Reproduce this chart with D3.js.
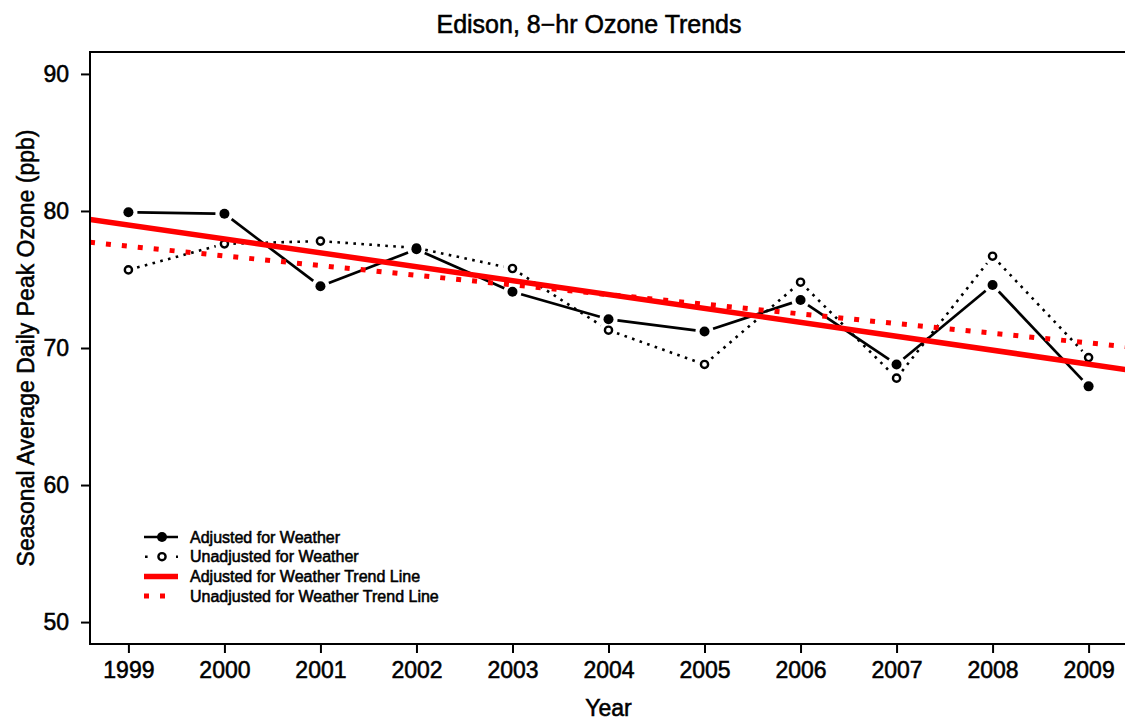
<!DOCTYPE html>
<html>
<head>
<meta charset="utf-8">
<script src="https://cdn.jsdelivr.net/npm/d3@7"></script>
<style>
  body { margin: 0; background: #fff; }
  svg { display: block; }
  text { font-family: "Liberation Sans", Arial, Helvetica, sans-serif; fill: #000; stroke: #000; stroke-width: 0.55px; }
</style>
</head>
<body>
<svg id="chart" width="1125" height="723"></svg>
<script>
// Seasonal average daily peak 8-hr ozone at Edison (ppb)
const years = [1999, 2000, 2001, 2002, 2003, 2004, 2005, 2006, 2007, 2008, 2009];
const adjusted = [79.9, 79.8, 74.5, 77.2, 74.1, 72.1, 71.2, 73.5, 68.8, 74.6, 67.2];
const unadjusted = [75.7, 77.6, 77.8, 77.3, 75.8, 71.3, 68.8, 74.8, 67.8, 76.7, 69.3];
const yTicks = [50, 60, 70, 80, 90];
const yLimits = [50, 90];
const legendLabels = [
  "Adjusted for Weather",
  "Unadjusted for Weather",
  "Adjusted for Weather Trend Line",
  "Unadjusted for Weather Trend Line"
];
const titleText = "Edison, 8\u2212hr Ozone Trends";
const xTitle = "Year";
const yTitle = "Seasonal Average Daily Peak Ozone (ppb)";

const svg = d3.select("#chart");
const plot = { left: 90, top: 52, right: 1127, bottom: 644 };

// axis ranges padded by 4% on each side
const xPad = (d3.max(years) - d3.min(years)) * 0.04;
const yPad = (yLimits[1] - yLimits[0]) * 0.04;
const x = d3.scaleLinear()
  .domain([d3.min(years) - xPad, d3.max(years) + xPad])
  .range([plot.left, plot.right]);
const y = d3.scaleLinear()
  .domain([yLimits[0] - yPad, yLimits[1] + yPad])
  .range([plot.bottom, plot.top]);

// ordinary least squares fit
function fitLine(xs, ys) {
  const mx = d3.mean(xs), my = d3.mean(ys);
  let sxy = 0, sxx = 0;
  xs.forEach((xv, i) => { sxy += (xv - mx) * (ys[i] - my); sxx += (xv - mx) ** 2; });
  const slope = sxy / sxx;
  return { slope, intercept: my - slope * mx };
}

svg.append("defs").append("clipPath").attr("id", "plotClip")
  .append("rect")
  .attr("x", plot.left).attr("y", plot.top)
  .attr("width", plot.right - plot.left).attr("height", plot.bottom - plot.top);

// segments between points, leaving a gap round each marker
function gappedSegments(values, gap) {
  const pts = years.map((yr, i) => [x(yr), y(values[i])]);
  const segs = [];
  for (let i = 0; i < pts.length - 1; i++) {
    const [x0, y0] = pts[i], [x1, y1] = pts[i + 1];
    const len = Math.hypot(x1 - x0, y1 - y0);
    if (len <= 2 * gap) continue;
    const ux = (x1 - x0) / len, uy = (y1 - y0) / len;
    segs.push([x0 + ux * gap, y0 + uy * gap, x1 - ux * gap, y1 - uy * gap]);
  }
  return segs;
}

const g = svg.append("g").attr("clip-path", "url(#plotClip)");

// unadjusted series: dotted line, open circles
g.append("g").selectAll("line").data(gappedSegments(unadjusted, 9)).join("line")
  .attr("x1", d => d[0]).attr("y1", d => d[1]).attr("x2", d => d[2]).attr("y2", d => d[3])
  .attr("stroke", "#000").attr("stroke-width", 2.6).attr("stroke-dasharray", "2.6,5.4");
g.append("g").selectAll("circle").data(unadjusted).join("circle")
  .attr("cx", (d, i) => x(years[i])).attr("cy", d => y(d)).attr("r", 3.6)
  .attr("fill", "none").attr("stroke", "#000").attr("stroke-width", 2.4);

// adjusted series: solid line, filled circles
g.append("g").selectAll("line").data(gappedSegments(adjusted, 9)).join("line")
  .attr("x1", d => d[0]).attr("y1", d => d[1]).attr("x2", d => d[2]).attr("y2", d => d[3])
  .attr("stroke", "#000").attr("stroke-width", 2.7);
g.append("g").selectAll("circle").data(adjusted).join("circle")
  .attr("cx", (d, i) => x(years[i])).attr("cy", d => y(d)).attr("r", 5)
  .attr("fill", "#000");

// trend lines across the full x range
const fitAdj = fitLine(years, adjusted);
const fitUnadj = fitLine(years, unadjusted);
const xd = x.domain();
g.append("line")
  .attr("x1", x(xd[0])).attr("y1", y(fitAdj.intercept + fitAdj.slope * xd[0]))
  .attr("x2", x(xd[1])).attr("y2", y(fitAdj.intercept + fitAdj.slope * xd[1]))
  .attr("stroke", "#ff0000").attr("stroke-width", 5.5);
g.append("line")
  .attr("x1", x(xd[0])).attr("y1", y(fitUnadj.intercept + fitUnadj.slope * xd[0]))
  .attr("x2", x(xd[1])).attr("y2", y(fitUnadj.intercept + fitUnadj.slope * xd[1]))
  .attr("stroke", "#ff0000").attr("stroke-width", 5).attr("stroke-dasharray", "5,11");

// plot frame
svg.append("rect")
  .attr("x", plot.left).attr("y", plot.top)
  .attr("width", plot.right - plot.left).attr("height", plot.bottom - plot.top)
  .attr("fill", "none").attr("stroke", "#000").attr("stroke-width", 2);

// axes
const yAxis = svg.append("g").attr("transform", `translate(${plot.left},0)`)
  .call(d3.axisLeft(y).tickValues(yTicks).tickSize(9).tickPadding(12).tickFormat(d3.format("d")));
const xAxis = svg.append("g").attr("transform", `translate(0,${plot.bottom})`)
  .call(d3.axisBottom(x).tickValues(years).tickSize(9).tickPadding(9).tickFormat(d3.format("d")));
[yAxis, xAxis].forEach(a => {
  a.select(".domain").remove();
  a.selectAll(".tick line").attr("stroke", "#000").attr("stroke-width", 2);
  a.selectAll(".tick text")
    .style("font-family", '"Liberation Sans", Arial, Helvetica, sans-serif')
    .style("font-size", "23px").attr("fill", "#000");
});

// titles
svg.append("text").attr("x", 589).attr("y", 33).attr("text-anchor", "middle")
  .style("font-size", "25px").text(titleText);
svg.append("text").attr("x", (plot.left + plot.right) / 2).attr("y", 716)
  .attr("text-anchor", "middle").style("font-size", "23px").text(xTitle);
svg.append("text")
  .attr("transform", `translate(34,${(plot.top + plot.bottom) / 2}) rotate(-90)`)
  .attr("text-anchor", "middle").style("font-size", "23px").text(yTitle);

// legend
const legendStyles = [
  { color: "#000", width: 2.7, dash: null, marker: "filled", x1: 144, x2: 178 },
  { color: "#000", width: 2.6, dash: "2.6,28.4", marker: "open", x1: 145, x2: 178 },
  { color: "#ff0000", width: 5.5, dash: null, marker: null, x1: 144, x2: 178 },
  { color: "#ff0000", width: 5, dash: "5,11", marker: null, x1: 144, x2: 166 }
];
const legend = svg.append("g");
const rows = legend.selectAll("g").data(legendLabels).join("g")
  .attr("transform", (d, i) => `translate(0,${537 + i * 19.7})`);
rows.append("line")
  .attr("x1", (d, i) => legendStyles[i].x1).attr("x2", (d, i) => legendStyles[i].x2)
  .attr("y1", 0).attr("y2", 0)
  .attr("stroke", (d, i) => legendStyles[i].color)
  .attr("stroke-width", (d, i) => legendStyles[i].width)
  .attr("stroke-dasharray", (d, i) => legendStyles[i].dash);
rows.filter((d, i) => legendStyles[i].marker === "filled").append("circle")
  .attr("cx", 162).attr("cy", 0).attr("r", 5).attr("fill", "#000");
rows.filter((d, i) => legendStyles[i].marker === "open").append("circle")
  .attr("cx", 162).attr("cy", 0).attr("r", 3.6).attr("fill", "#fff")
  .attr("stroke", "#000").attr("stroke-width", 2.4);
rows.append("text").attr("x", 190).attr("y", 0).attr("dy", "0.35em")
  .style("font-size", "16px").text(d => d);
</script>
</body>
</html>
